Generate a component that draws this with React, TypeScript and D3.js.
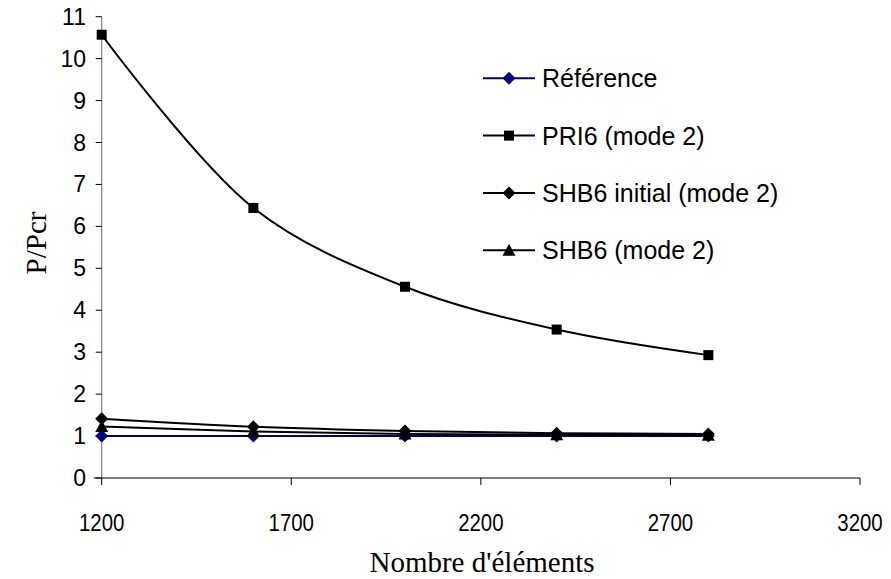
import React from "react";
import * as d3 from "d3";

const xValues = [1200, 1600, 2000, 2400, 2800];
const reference = [1.0, 1.0, 1.0, 1.0, 1.0];
const pri6 = [10.57, 6.44, 4.56, 3.54, 2.93];
const shb6Initial = [1.41, 1.22, 1.12, 1.07, 1.05];
const shb6 = [1.23, 1.11, 1.05, 1.03, 1.02];
const xTicks = [1200, 1700, 2200, 2700, 3200];
const yTicks = [0, 1, 2, 3, 4, 5, 6, 7, 8, 9, 10, 11];
const seriesNames = ["Référence", "PRI6 (mode 2)", "SHB6 initial (mode 2)", "SHB6 (mode 2)"];

const W = 891;
const H = 579;

export default function App() {
  const x = d3.scaleLinear().domain([1200, 3200]).range([101.7, 860]);
  const y = d3.scaleLinear().domain([0, 11]).range([478, 16.7]);
  const line = d3
    .line<number>()
    .x((_, i) => x(xValues[i]))
    .y((d) => y(d))
    .curve(d3.curveCatmullRom.alpha(0.5));

  const series = [
    { name: seriesNames[0], values: reference, color: "#000080", marker: "diamond" },
    { name: seriesNames[1], values: pri6, color: "#000000", marker: "square" },
    { name: seriesNames[2], values: shb6Initial, color: "#000000", marker: "diamond" },
    { name: seriesNames[3], values: shb6, color: "#000000", marker: "triangle" },
  ];

  const marker = (type: string, cx: number, cy: number, color: string, key: string) => {
    if (type === "square") {
      return <rect key={key} x={cx - 5} y={cy - 5} width={10} height={10} fill={color} />;
    }
    if (type === "diamond") {
      return (
        <path
          key={key}
          d={`M${cx},${cy - 6.5}L${cx + 6.5},${cy}L${cx},${cy + 6.5}L${cx - 6.5},${cy}Z`}
          fill={color}
        />
      );
    }
    return (
      <path
        key={key}
        d={`M${cx},${cy - 6.5}L${cx + 6.5},${cy + 5.5}L${cx - 6.5},${cy + 5.5}Z`}
        fill={color}
      />
    );
  };

  const legendX = 483;
  const legendY0 = 78.3;
  const legendDy = 57.3;

  return (
    <svg width={W} height={H} style={{ position: "absolute", left: 0, top: 0, background: "#fff" }}>
      <rect width={W} height={H} fill="#fff" />
      {/* axes */}
      <line x1={x(1200)} x2={x(1200)} y1={y(11)} y2={y(0)} stroke="#808080" strokeWidth={1.2} />
      <line x1={x(1200) - 8} x2={x(3200)} y1={y(0)} y2={y(0)} stroke="#000" strokeWidth={1.2} />
      {yTicks.map((t) => (
        <g key={"yt" + t}>
          <line x1={x(1200) - 6} x2={x(1200)} y1={y(t)} y2={y(t)} stroke="#000" strokeWidth={1} />
          <text
            x={86}
            y={y(t)}
            textAnchor="end"
            dominantBaseline="central"
            fontFamily="Liberation Sans, Arial, sans-serif"
            fontSize={23}
            fill="#000"
          >
            {t}
          </text>
        </g>
      ))}
      {xTicks.map((t) => (
        <g key={"xt" + t}>
          <line x1={x(t)} x2={x(t)} y1={y(0)} y2={y(0) + 7} stroke="#000" strokeWidth={1} />
          <text
            x={x(t)}
            y={531}
            textAnchor="middle"
            fontFamily="Liberation Sans, Arial, sans-serif"
            fontSize={24}
            fill="#000"
            transform={`translate(${x(t)},0) scale(0.85,1) translate(${-x(t)},0)`}
          >
            {t}
          </text>
        </g>
      ))}
      <text
        x={482}
        y={572}
        textAnchor="middle"
        fontFamily="Liberation Serif, Times New Roman, serif"
        fontSize={29}
        fill="#000"
      >
        Nombre d'éléments
      </text>
      <text
        transform={`translate(46,243) rotate(-90)`}
        textAnchor="middle"
        fontFamily="Liberation Serif, Times New Roman, serif"
        fontSize={29}
        fill="#000"
      >
        P/Pcr
      </text>
      {/* series */}
      {series.map((s) => (
        <path key={"l" + s.name} d={line(s.values) || ""} fill="none" stroke={s.color} strokeWidth={2} />
      ))}
      {series.map((s) =>
        s.values.map((v, i) => marker(s.marker, x(xValues[i]), y(v), s.color, s.name + i))
      )}
      {/* legend */}
      {series.map((s, i) => {
        const ly = legendY0 + i * legendDy;
        return (
          <g key={"lg" + s.name}>
            <line x1={legendX} x2={legendX + 52} y1={ly} y2={ly} stroke={s.color} strokeWidth={2} />
            {marker(s.marker, legendX + 26, ly, s.color, "lgm" + i)}
            <text
              x={legendX + 59}
              y={ly}
              dominantBaseline="central"
              fontFamily="Liberation Sans, Arial, sans-serif"
              fontSize={25}
              fill="#000"
            >
              {s.name}
            </text>
          </g>
        );
      })}
    </svg>
  );
}
